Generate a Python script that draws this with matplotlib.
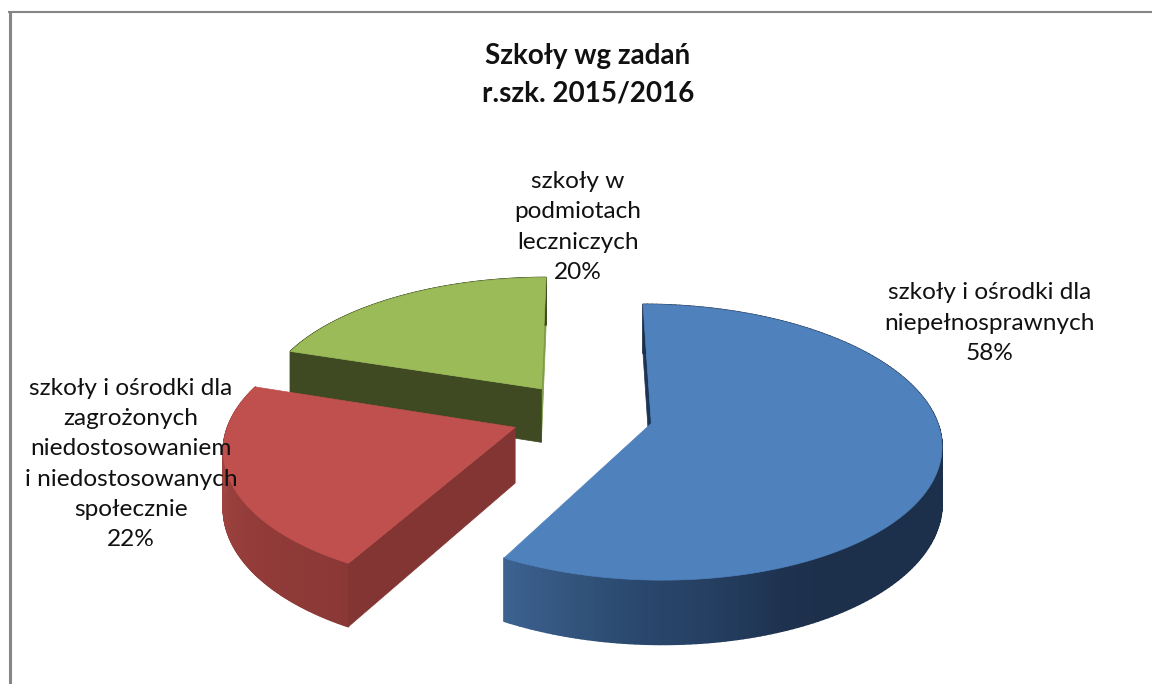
import numpy as np
import matplotlib
matplotlib.use('Agg')
import matplotlib.pyplot as plt
from matplotlib.collections import PolyCollection

# Chart data
categories = ['szkoły i ośrodki dla\nniepełnosprawnych',
              'szkoły i ośrodki dla\nzagrożonych\nniedostosowaniem\ni niedostosowanych\nspołecznie',
              'szkoły w\npodmiotach\nleczniczych']
values = [58, 22, 20]
title = 'Szkoły wg zadań\nr.szk. 2015/2016'

top_colors = ['#4F81BD', '#C0504D', '#9BBB59']

# Projection of the tilted pie
cx, cy = 582, 415
rx, ry = 284, 133
persp = 0.136
depth = 55
explode = 0.25


def project(u, v, z=0.0):
    s = 1 / (1 + persp * v)
    return cx + rx * u * s, cy - ry * v * s + depth * z * s


def hex2rgb(c):
    return np.array(matplotlib.colors.to_rgb(c))


def arc_points(a0, a1, mid):
    # clockwise from the top, offset by the exploded apex
    a = np.radians(np.linspace(a0, a1, 200))
    u = mid[0] + np.sin(a)
    v = mid[1] + np.cos(a)
    return u, v


def flat_face(ax, u0, v0, u1, v1, color):
    p = [project(u0, v0), project(u1, v1), project(u1, v1, 1), project(u0, v0, 1)]
    ax.fill(*zip(*p), color=color, lw=0.5)


def outer_wall(ax, u, v, angles, stops, stop_colors):
    quads, cols = [], []
    rgb = np.array([hex2rgb(c) for c in stop_colors])
    for i in range(len(u) - 1):
        quads.append([project(u[i], v[i]), project(u[i + 1], v[i + 1]),
                      project(u[i + 1], v[i + 1], 1), project(u[i], v[i], 1)])
        cols.append([np.interp(angles[i], stops, rgb[:, k]) for k in range(3)])
    ax.add_collection(PolyCollection(quads, facecolors=cols, edgecolors=cols, linewidths=1.2))


fig = plt.figure(figsize=(11.52, 6.84), dpi=100)
ax = fig.add_axes([0, 0, 1, 1])
ax.set_xlim(0, 1152)
ax.set_ylim(684, 0)
ax.axis('off')

# Chart frame, only the top and left edges are in view
ax.plot([9.5, 9.5], [12, 684], color='#868686', lw=2.2, solid_capstyle='butt')
ax.plot([8, 1152], [12, 12], color='#868686', lw=1.5, solid_capstyle='butt')

# Slice angles
edges = np.concatenate([[0], np.cumsum(values)]) / sum(values) * 360
apex = []
for i in range(3):
    m = np.radians((edges[i] + edges[i + 1]) / 2)
    apex.append((explode * np.sin(m), explode * np.cos(m)))

wall_stops = [[60, 150, 157, 170, 186, 209],
              [209, 235, 260, 288],
              [288, 360]]
wall_colors = [['#1C304C', '#1C304C', '#1E324F', '#243E60', '#2B4A6F', '#3D6391'],
               ['#8A3836', '#933C39', '#9E4340', '#AA4A46'],
               ['#3F4A22', '#3F4A22']]

# Back slice first, then red, then blue in front
for i in [2, 1, 0]:
    a0, a1 = edges[i], edges[i + 1]
    u, v = arc_points(a0, a1, apex[i])
    ang = np.linspace(a0, a1, 200)
    if i == 2:
        flat_face(ax, apex[i][0], apex[i][1], u[-1], v[-1], '#7F9C47')
        flat_face(ax, apex[i][0], apex[i][1], u[0], v[0], '#3F4A22')
    elif i == 0:
        flat_face(ax, apex[i][0], apex[i][1], u[0], v[0], '#1C3557')
    outer_wall(ax, u, v, ang, wall_stops[i], wall_colors[i])
    if i == 1:
        flat_face(ax, apex[i][0], apex[i][1], u[0], v[0], '#823533')
    px, py = project(np.r_[apex[i][0], u], np.r_[apex[i][1], v])
    ax.fill(px, py, color=top_colors[i], lw=0.5)

# Text
font = 'Lato'
ax.text(588, 75, title, ha='center', va='center', fontsize=20, fontweight='bold',
        family=font, color='#111111', linespacing=1.55)
pct = [f'{v}%' for v in values]
label_pos = [(990, 323), (131, 464), (578, 227)]
for name, p, (x, y) in zip(categories, pct, label_pos):
    ax.text(x, y, name + '\n' + p, ha='center', va='center', fontsize=17.6,
            family=font, color='#111111', linespacing=1.54)

fig.savefig('out.png', dpi=100)
